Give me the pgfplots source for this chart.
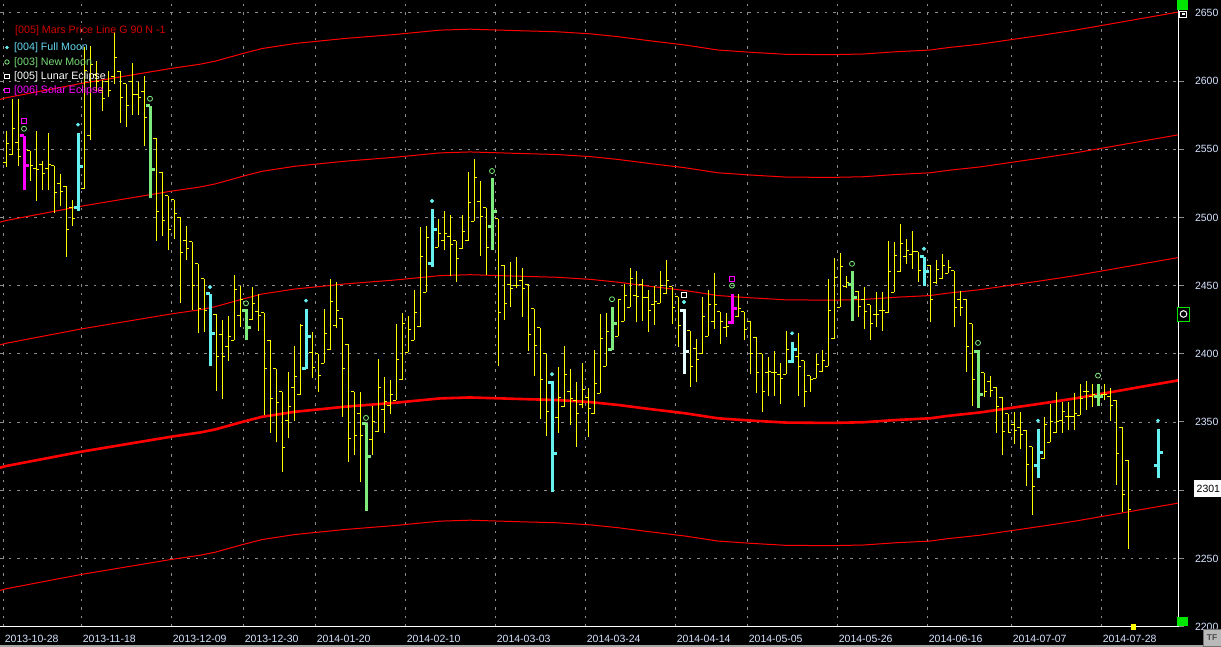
\documentclass[border=0pt]{standalone}
\usepackage{pgfplots}
\pgfplotsset{compat=1.18}
\usepackage{pgfplotstable}
\usepackage{fontspec}
\setmainfont{Liberation Sans}

\definecolor{bary}{RGB}{255,255,0}
\definecolor{barc}{RGB}{102,240,240}
\definecolor{barg}{RGB}{125,235,125}
\definecolor{barm}{RGB}{255,0,255}
\definecolor{barw}{RGB}{230,255,255}
\definecolor{mred}{RGB}{255,0,0}
\definecolor{lbl}{RGB}{215,228,255}
\definecolor{gridc}{RGB}{140,140,140}
\definecolor{legred}{RGB}{210,0,0}
\definecolor{legcyan}{RGB}{100,215,240}
\definecolor{leggreen}{RGB}{120,220,120}
\definecolor{indgreen}{RGB}{0,230,0}

\pgfdeclareplotmark{otick}{\pgfpathmoveto{\pgfpoint{-\pgfplotmarksize}{0pt}}\pgfpathlineto{\pgfpoint{0pt}{0pt}}\pgfusepathqstroke}
\pgfdeclareplotmark{ctick}{\pgfpathmoveto{\pgfpoint{0pt}{0pt}}\pgfpathlineto{\pgfpoint{\pgfplotmarksize}{0pt}}\pgfusepathqstroke}

% OHLC bars: x o h l c
\pgfplotstableread{
x o h l c
6 2540 2563 2537 2554
12 2546 2587 2546 2565
18 2555 2587 2538 2545
30 2549 2549 2527 2538
36 2536 2563 2512 2535
42 2539 2541 2520 2532
48 2536 2562 2520 2539
54 2538 2538 2503 2518
60 2525 2532 2508 2519
66 2523 2523 2471 2491
72 2507 2513 2494 2499
84 2521 2625 2521 2608
90 2560 2626 2557 2612
96 2605 2615 2593 2600
102 2593 2601 2578 2587
108 2600 2607 2588 2593
114 2603 2636 2598 2617
120 2607 2607 2569 2588
126 2598 2598 2566 2582
132 2600 2613 2575 2590
138 2590 2599 2575 2588
144 2592 2604 2552 2573
156 2558 2558 2483 2504
162 2533 2533 2486 2498
168 2516 2516 2476 2491
174 2513 2513 2484 2503
180 2500 2500 2437 2474
186 2483 2494 2469 2477
192 2482 2482 2432 2450
198 2466 2466 2415 2433
204 2455 2455 2416 2432
216 2429 2429 2373 2398
222 2414 2425 2367 2398
228 2405 2428 2395 2413
234 2410 2458 2410 2447
240 2428 2450 2420 2440
252 2425 2449 2425 2437
258 2431 2444 2417 2428
264 2430 2430 2355 2389
270 2410 2410 2342 2367
276 2389 2389 2335 2364
282 2372 2372 2313 2331
288 2351 2387 2338 2361
294 2375 2406 2351 2383
300 2370 2422 2370 2421
312 2401 2416 2382 2390
318 2400 2400 2372 2384
324 2393 2433 2393 2415
330 2403 2455 2403 2438
336 2421 2453 2419 2432
342 2426 2426 2354 2389
348 2407 2407 2321 2338
354 2372 2372 2326 2340
360 2356 2372 2306 2340
372 2337 2362 2326 2350
378 2343 2396 2343 2375
384 2359 2383 2342 2365
390 2362 2381 2356 2370
396 2366 2422 2366 2396
402 2381 2430 2381 2422
408 2401 2428 2401 2418
414 2410 2447 2410 2430
420 2420 2493 2420 2471
426 2445 2494 2445 2485
438 2478 2499 2478 2488
444 2483 2505 2476 2488
450 2486 2502 2457 2480
456 2483 2483 2453 2470
462 2477 2502 2477 2490
468 2483 2533 2483 2511
474 2497 2543 2497 2529
480 2512 2527 2472 2501
486 2507 2507 2458 2478
498 2499 2499 2391 2430
504 2465 2465 2425 2437
510 2451 2467 2434 2448
516 2450 2471 2448 2450
522 2454 2463 2427 2448
528 2451 2451 2402 2414
534 2433 2433 2384 2406
540 2419 2419 2352 2381
546 2400 2400 2340 2358
558 2353 2390 2342 2368
564 2361 2406 2361 2385
570 2372 2389 2348 2367
576 2366 2379 2332 2356
582 2363 2393 2360 2374
588 2368 2375 2339 2360
594 2356 2403 2356 2378
600 2371 2429 2371 2411
606 2391 2430 2391 2416
618 2413 2440 2413 2440
624 2424 2451 2424 2443
630 2434 2463 2434 2455
636 2443 2461 2423 2442
642 2451 2455 2424 2441
648 2441 2447 2416 2432
654 2436 2450 2421 2438
660 2437 2461 2437 2450
666 2444 2469 2444 2454
672 2449 2449 2422 2434
678 2442 2442 2405 2421
690 2417 2417 2376 2391
696 2404 2411 2379 2396
702 2400 2442 2400 2427
708 2413 2447 2413 2436
714 2424 2459 2418 2436
720 2431 2431 2407 2424
726 2419 2430 2412 2420
738 2427 2444 2427 2433
744 2431 2431 2410 2418
750 2424 2424 2385 2400
756 2412 2412 2371 2386
762 2400 2400 2357 2372
768 2386 2398 2369 2387
774 2386 2402 2369 2386
780 2385 2393 2363 2382
786 2385 2417 2385 2403
798 2398 2415 2369 2391
804 2395 2395 2361 2372
810 2384 2384 2372 2381
816 2382 2400 2382 2392
822 2387 2403 2387 2395
828 2391 2455 2391 2432
834 2411 2470 2411 2456
840 2434 2474 2434 2464
846 2449 2457 2448 2452
858 2446 2446 2427 2435
864 2440 2449 2418 2431
870 2436 2436 2410 2422
876 2429 2445 2420 2429
882 2432 2445 2417 2432
888 2430 2483 2430 2460
894 2445 2482 2445 2472
900 2460 2495 2460 2481
906 2471 2484 2466 2476
912 2473 2490 2462 2475
918 2475 2475 2453 2461
930 2465 2465 2423 2440
936 2452 2469 2451 2462
942 2455 2473 2455 2465
948 2459 2469 2459 2463
954 2461 2461 2420 2434
960 2440 2446 2428 2434
966 2440 2440 2387 2405
972 2422 2422 2362 2381
984 2386 2386 2368 2372
990 2380 2384 2368 2373
996 2375 2376 2342 2361
1002 2368 2368 2326 2343
1008 2356 2356 2342 2342
1014 2348 2357 2334 2344
1020 2346 2357 2330 2341
1026 2344 2344 2303 2319
1032 2332 2332 2282 2303
1044 2323 2354 2323 2348
1050 2335 2363 2335 2350
1056 2342 2372 2342 2350
1062 2351 2365 2342 2358
1068 2354 2365 2344 2354
1074 2354 2371 2344 2356
1080 2355 2378 2355 2367
1086 2372 2380 2359 2372
1092 2369 2378 2361 2370
1104 2370 2378 2366 2370
1110 2369 2375 2351 2362
1116 2366 2366 2304 2327
1122 2346 2346 2284 2297
1128 2322 2322 2257 2286
}\yelbars

\pgfplotstableread{
x o h l c
78 2507 2562 2505 2537
210 2444 2444 2391 2415
306 2389 2433 2389 2413
432 2466 2506 2464 2491
552 2379 2380 2299 2327
792 2394 2409 2393 2403
924 2471 2471 2450 2460
1038 2318 2345 2309 2328
1158 2318 2345 2309 2328
}\cyanbars

\pgfplotstableread{
x o h l c
150 2582 2582 2514 2535
246 2432 2433 2410 2419
366 2349 2349 2285 2325
492 2493 2529 2476 2504
612 2403 2434 2403 2422
852 2451 2461 2424 2441
978 2402 2403 2360 2370
1098 2369 2378 2362 2369
}\greenbars

\pgfplotstableread{
x o h l c
24 2560 2560 2520 2538
732 2423 2444 2422 2433
}\magbars

\pgfplotstableread{
x o h l c
684 2432 2433 2385 2402
}\whitebars

% Mars price lines (harmonics of 90)
\pgfplotstableread{
x m1 m0 p1 p2 p3
0 2226.5 2316.5 2406.5 2496.5 2586.5
6 2227.7 2317.7 2407.7 2497.7 2587.7
81 2238.2 2328.2 2418.2 2508.2 2598.2
171 2249.2 2339.2 2429.2 2519.2 2609.2
200 2252.3 2342.3 2432.3 2522.3 2612.3
215 2254.5 2344.5 2434.5 2524.5 2614.5
243 2260.2 2350.2 2440.2 2530.2 2620.2
262 2263.8 2353.8 2443.8 2533.8 2623.8
295 2267.5 2357.5 2447.5 2537.5 2627.5
345 2271.2 2361.2 2451.2 2541.2 2631.2
395 2274.1 2364.1 2454.1 2544.1 2634.1
440 2277.3 2367.3 2457.3 2547.3 2637.3
470 2278.0 2368.0 2458.0 2548.0 2638.0
523 2276.8 2366.8 2456.8 2546.8 2636.8
557 2276.1 2366.1 2456.1 2546.1 2636.1
590 2274.6 2364.6 2454.6 2544.6 2634.6
618 2272.5 2362.5 2452.5 2542.5 2632.5
652 2269.3 2359.3 2449.3 2539.3 2629.3
685 2266.4 2356.4 2446.4 2536.4 2626.4
718 2262.7 2352.7 2442.7 2532.7 2622.7
752 2261.0 2351.0 2441.0 2531.0 2621.0
785 2259.6 2349.6 2439.6 2529.6 2619.6
830 2259.3 2349.3 2439.3 2529.3 2619.3
863 2259.8 2349.8 2439.8 2529.8 2619.8
897 2261.5 2351.5 2441.5 2531.5 2621.5
930 2262.7 2352.7 2442.7 2532.7 2622.7
947 2264.4 2354.4 2444.4 2534.4 2624.4
980 2267.0 2357.0 2447.0 2537.0 2627.0
1008 2270.0 2360.0 2450.0 2540.0 2630.0
1042 2273.6 2363.6 2453.6 2543.6 2633.6
1075 2277.3 2367.3 2457.3 2547.3 2637.3
1108 2281.5 2371.5 2461.5 2551.5 2641.5
1142 2285.9 2375.9 2465.9 2555.9 2645.9
1178 2290.5 2380.5 2470.5 2560.5 2650.5
}\mars

\newcommand\ohlc[4]{%
  \addplot[#2, line width=#3, quiver={u=0,v=\thisrow{h}-\thisrow{l}}] table[x=x,y=l]{#1};
  \addplot[#2, line width=#3, only marks, mark=otick, mark size=#4] table[x=x,y=o]{#1};
  \addplot[#2, line width=#3, only marks, mark=ctick, mark size=#4] table[x=x,y=c]{#1};
}

\begin{document}
\begin{tikzpicture}[x=1pt,y=1pt]
\useasboundingbox (0,-20) rectangle (1221,627);
\fill[black] (0,-20) rectangle (1221,627);
\begin{axis}[
  at={(0,0)}, anchor=south west, scale only axis,
  width=1178pt, height=627pt,
  xmin=0, xmax=1178, ymin=2199.7, ymax=2659.4,
  axis x line*=bottom, axis y line*=right,
  axis line style={white, line width=1pt},
  xtick={3.3,81.3,171.3,243.3,315.3,405.3,495.3,585.3,675.3,747.3,837.3,927.3,1011.3,1101.3},
  xticklabels={2013-10-28,2013-11-18,2013-12-09,2013-12-30,2014-01-20,2014-02-10,2014-03-03,2014-03-24,2014-04-14,2014-05-05,2014-05-26,2014-06-16,2014-07-07,2014-07-28},
  ytick={2200,2250,2300,2350,2400,2450,2500,2550,2600,2650},
  yticklabels={2200,2250,2300,2350,2400,2450,2500,2550,2600,2650},
  tick align=outside, major tick length=6pt,
  xtick style={draw=none},
  ytick style={gridc, line width=1pt},
  grid=major,
  major grid style={gridc, line width=0.8pt, dash pattern=on 2.5pt off 6pt},
  tick label style={font=\fontsize{10.5}{12}\selectfont, text=lbl},
  xticklabel style={anchor=north west, xshift=-2pt, yshift=1pt},
  yticklabel style={anchor=west, xshift=7.5pt},
]
% Mars price lines
\addplot[mred, line width=1pt] table[x=x,y=m1]{\mars};
\addplot[mred, line width=2.6pt] table[x=x,y=m0]{\mars};
\addplot[mred, line width=1pt] table[x=x,y=p1]{\mars};
\addplot[mred, line width=1pt] table[x=x,y=p2]{\mars};
\addplot[mred, line width=1pt] table[x=x,y=p3]{\mars};
% bars
\ohlc{\yelbars}{bary}{1pt}{3pt}
\ohlc{\cyanbars}{barc}{3pt}{4.5pt}
\ohlc{\greenbars}{barg}{3pt}{4.5pt}
\ohlc{\magbars}{barm}{3pt}{4.5pt}
\ohlc{\whitebars}{barw}{3pt}{4.5pt}
% event markers
\addplot[only marks, mark=*, mark size=1.8pt, barc] coordinates {(78,2568) (210,2449) (306,2439) (432,2512) (552,2385) (684,2438) (792,2415) (924,2477) (1038,2351) (1158,2351)};
\addplot[only marks, mark=o, mark size=2.5pt, line width=0.8pt, barg] coordinates {(24,2565) (150,2587) (246,2437) (366,2353) (492,2534) (612,2440) (732,2450) (852,2466) (978,2408) (1098,2384)};
\addplot[only marks, mark=square, mark size=2.6pt, line width=0.8pt, white] coordinates {(684,2443)};
\addplot[only marks, mark=square, mark size=2.6pt, line width=0.8pt, barm] coordinates {(24,2571) (732,2455)};
\end{axis}
% legend
\begin{scope}[every node/.style={font=\fontsize{10.7}{12}\selectfont, inner sep=0pt, anchor=west}]
\node[text=legred] at (15,596) {[005] Mars Price Line G 90 N -1};
\node[text=legcyan] at (14,579) {[004] Full Moon};
\node[text=leggreen] at (14,564.5) {[003] New Moon};
\node[text=white] at (14,550) {[005] Lunar Eclipse};
\node[text=barm] at (14,536) {[006] Solar Eclipse};
\fill[barc] (7,579.5) circle (1.8pt);
\draw[barg, line width=0.8pt] (7,565) circle (2.2pt);
\draw[white, line width=0.8pt] (4.7,548.2) rectangle (9.3,552.8);
\draw[barm, line width=0.8pt] (4.7,534.2) rectangle (9.3,538.8);
\end{scope}
% right-side indicators
\fill[indgreen] (1177,617) rectangle (1188,627);
\draw[white, line width=0.8pt, fill=black] (1179.5,610) rectangle (1186.5,616);
\fill[white] (1181.5,612) rectangle (1184.5,614);
\fill[indgreen] (1177,1) rectangle (1188,10);
\draw[indgreen, line width=0.8pt, fill=black] (1177.5,306) rectangle (1189.5,320);
\draw[white, line width=1pt] (1183.5,313) circle (3.3pt);
\fill[bary] (1131,-3) rectangle (1136,3);
% last price box
\fill[white] (1194,130) rectangle (1221,147);
\node[font=\fontsize{10.5}{12}\selectfont, text=black, anchor=west, inner sep=0pt] at (1196.5,138.5) {2301};
% bottom strip
\fill[gray!70] (0,-20) rectangle (1221,-18.5);
\fill[gray!55] (1203,-19) rectangle (1221,-2);
\draw[gray!90!black, line width=0.6pt] (1203,-19) rectangle (1221,-2);
\node[font=\fontsize{8.5}{9}\selectfont\bfseries, text=black!70, inner sep=0pt] at (1212,-10.5) {TF};
\end{tikzpicture}
\end{document}
